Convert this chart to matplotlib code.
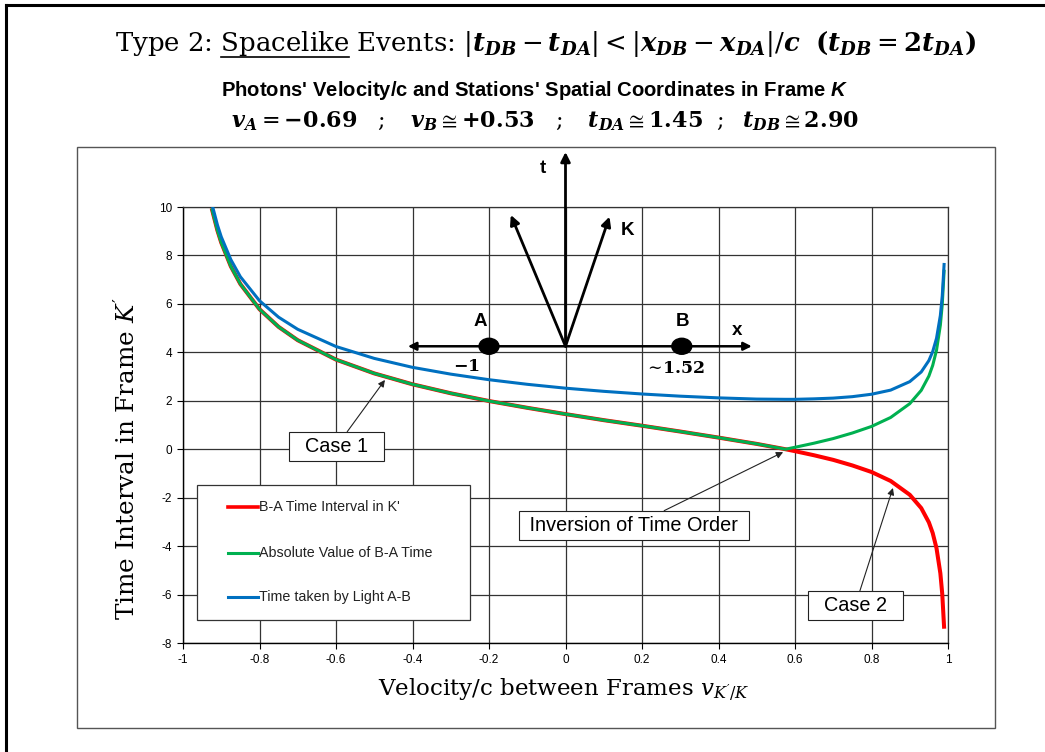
import matplotlib
matplotlib.use("Agg")
import matplotlib.pyplot as plt
from matplotlib.patches import Rectangle, Ellipse
from matplotlib.lines import Line2D

SERIF = 'DejaVu Serif'
plt.rcParams['mathtext.fontset'] = 'custom'
plt.rcParams['mathtext.rm'] = SERIF
plt.rcParams['mathtext.it'] = SERIF + ':italic'
plt.rcParams['mathtext.bf'] = SERIF + ':bold'
plt.rcParams['mathtext.sf'] = 'Liberation Sans:bold:italic'
if 'mathtext.bfit' in plt.rcParams:
    plt.rcParams['mathtext.bfit'] = SERIF + ':bold:italic'
plt.rcParams['axes.unicode_minus'] = False
plt.rcParams['font.family'] = ['Liberation Sans', 'DejaVu Sans']

# ---------------- data ----------------
velocity = [-0.925, -0.91, -0.9, -0.875, -0.85, -0.8, -0.75, -0.7, -0.6, -0.5, -0.4,
            -0.3, -0.2, -0.1, 0.0, 0.1, 0.2, 0.3, 0.4, 0.5, 0.575, 0.6, 0.65, 0.7,
            0.75, 0.8, 0.85, 0.9, 0.93, 0.95, 0.96, 0.97, 0.98, 0.985, 0.99]
interval_ba = [9.95, 9.03, 8.53, 7.55, 6.82, 5.78, 5.05, 4.50, 3.70, 3.13, 2.68,
               2.31, 1.99, 1.71, 1.45, 1.20, 0.97, 0.73, 0.48, 0.22, 0.00, -0.08, -0.25, -0.44,
               -0.67, -0.94, -1.31, -1.88, -2.43, -3.02, -3.46, -4.09, -5.12, -5.98, -7.41]
abs_interval = [9.95, 9.03, 8.53, 7.55, 6.82, 5.78, 5.05, 4.50, 3.70, 3.13, 2.68,
                2.31, 1.99, 1.71, 1.45, 1.20, 0.97, 0.73, 0.48, 0.22, 0.00, 0.08, 0.25, 0.44,
                0.67, 0.94, 1.31, 1.88, 2.43, 3.02, 3.46, 4.09, 5.12, 5.98, 7.41]
light_time = [10.16, 9.26, 8.77, 7.83, 7.12, 6.13, 5.45, 4.95, 4.24, 3.75, 3.38,
              3.10, 2.87, 2.68, 2.52, 2.39, 2.28, 2.19, 2.12, 2.07, 2.06, 2.06, 2.08, 2.11,
              2.17, 2.27, 2.44, 2.79, 3.19, 3.66, 4.03, 4.58, 5.52, 6.33, 7.69]

series_labels = ["B-A Time Interval in K'", "Absolute Value of B-A Time", "Time taken by Light A-B"]
series_colors = ["#FF0000", "#00B050", "#0070C0"]

x_ticks = [-1, -0.8, -0.6, -0.4, -0.2, 0, 0.2, 0.4, 0.6, 0.8, 1]
x_tick_labels = ["-1", "-0.8", "-0.6", "-0.4", "-0.2", "0", "0.2", "0.4", "0.6", "0.8", "1"]
y_ticks = [-8, -6, -4, -2, 0, 2, 4, 6, 8, 10]
y_tick_labels = ["-8", "-6", "-4", "-2", "0", "2", "4", "6", "8", "10"]

# diagram (frame K sketch) positions in data units
origin = (0.0, 4.25)
t_tip = (0.0, 12.27)
k_left_tip = (-0.143, 9.67)
k_right_tip = (0.115, 9.6)
x_axis_ends = (-0.412, 0.487)
station_A = (-0.2, 4.25)
station_B = (0.304, 4.25)

# ---------------- figure ----------------
W, H = 1045, 752
fig = plt.figure(figsize=(W / 100, H / 100), dpi=100)

def fx(px):
    return px / W

def fy(py):
    return 1 - py / H

ax = fig.add_axes([fx(183), fy(643), (948 - 183) / W, (643 - 207) / H])

ax.plot(velocity, interval_ba, color=series_colors[0], lw=2.9, zorder=3, solid_capstyle='butt')
ax.plot(velocity, abs_interval, color=series_colors[1], lw=2.2, zorder=4, solid_capstyle='butt')
ax.plot(velocity, light_time, color=series_colors[2], lw=2.2, zorder=5, solid_capstyle='butt')

ax.set_xlim(-1, 1)
ax.set_ylim(-8, 10)
ax.set_xticks(x_ticks)
ax.set_xticklabels(x_tick_labels)
ax.set_yticks(y_ticks)
ax.set_yticklabels(y_tick_labels)
ax.tick_params(axis='both', direction='out', length=4, width=0.8, labelsize=8.5, colors='black', pad=4)
ax.grid(True, color='#333333', lw=0.9)
ax.set_axisbelow(True)
for s in ['top', 'right']:
    ax.spines[s].set_color('#333333')
    ax.spines[s].set_linewidth(0.9)
for s in ['left', 'bottom']:
    ax.spines[s].set_color('black')
    ax.spines[s].set_linewidth(1.0)

# axis labels
fig.text(fx(564), fy(690), r"Velocity/c between Frames $v_{K'/K}$", ha='center', va='center',
         fontsize=16.5, family=SERIF)
fig.text(fx(127), fy(459), r"Time Interval in Frame $K'$", ha='center', va='center',
         rotation=90, fontsize=17.7, family=SERIF)

# titles
title_str = (r"Type 2: Spacelike Events: $|\mathbfit{t}_{\mathbfit{DB}} - \mathbfit{t}_{\mathbfit{DA}}|"
             r" < |\mathbfit{x}_{\mathbfit{DB}} - \mathbfit{x}_{\mathbfit{DA}}|/\mathbfit{c}\ \ "
             r"\mathbf{(}\mathbfit{t}_{\mathbfit{DB}} = \mathbf{2}\mathbfit{t}_{\mathbfit{DA}}\mathbf{)}$")
title_kw = dict(fontsize=18.7, family=SERIF)
title = fig.text(fx(546), fy(44), title_str, ha='center', va='center', **title_kw)

fig.text(fx(535), fy(90), r"Photons' Velocity/c and Stations' Spatial Coordinates in Frame $\mathsf{K}$",
         ha='center', va='center', fontsize=14.6, fontweight='bold', family='Liberation Sans')
fig.text(fx(545), fy(121),
         r"$\mathbfit{v}_{\mathbfit{A}} = \mathbf{-0.69}\quad;\quad\mathbfit{v}_{\mathbfit{B}} \cong \mathbf{+0.53}"
         r"\quad;\quad\mathbfit{t}_{\mathbfit{DA}} \cong \mathbf{1.45}\ \ ;\ \ \mathbfit{t}_{\mathbfit{DB}} \cong \mathbf{2.90}$",
         ha='center', va='center', fontsize=16)

# borders
fig.add_artist(Rectangle((fx(77), fy(728)), (995 - 77) / W, (728 - 147) / H, transform=fig.transFigure,
                         fill=False, ec='#555555', lw=1.0))
fig.add_artist(Line2D([fx(6), 1], [fy(5), fy(5)], transform=fig.transFigure, color='black', lw=2.2))
fig.add_artist(Line2D([fx(6), fx(6)], [0, fy(5)], transform=fig.transFigure, color='black', lw=2.2))

# legend (manual, Excel-like)
leg_box = Rectangle((0.0183, 0.053), 0.357, 0.309, transform=ax.transAxes, fc='white', ec='#333333',
                    lw=0.9, zorder=6)
ax.add_patch(leg_box)
for i, yy in enumerate([0.312, 0.2064, 0.1055]):
    ax.add_line(Line2D([0.0588, 0.098], [yy, yy], transform=ax.transAxes, color=series_colors[i],
                       lw=2.6 if i == 0 else 2.2, zorder=7))
    ax.text(0.099, yy, series_labels[i], transform=ax.transAxes, fontsize=10.3, va='center', ha='left',
            color='#222222', zorder=7)

# callouts
box_kw = dict(boxstyle='square,pad=0.25', fc='white', ec='#222222', lw=0.8)
arr_kw = dict(arrowstyle='-|>', color='#222222', lw=0.8, mutation_scale=10, shrinkA=0, shrinkB=0)
ax.annotate("  Case 1  ", xy=(-0.472, 2.86), xytext=(-0.599, 0.11), ha='center', va='center', fontsize=14.3,
            bbox=box_kw, arrowprops=arr_kw, zorder=8)
ax.annotate(" Inversion of Time Order ", xy=(0.569, -0.12), xytext=(0.179, -3.15), ha='center', va='center',
            fontsize=14.3, bbox=box_kw, arrowprops=arr_kw, zorder=8)
ax.annotate("  Case 2  ", xy=(0.856, -1.6), xytext=(0.757, -6.47), ha='center', va='center', fontsize=14.3,
            bbox=box_kw, arrowprops=arr_kw, zorder=8)

# frame K diagram
d_arrow = dict(arrowstyle='-|>', color='black', lw=2.0, mutation_scale=14, shrinkA=0, shrinkB=0)
ax.annotate("", xy=t_tip, xytext=origin, arrowprops=d_arrow, annotation_clip=False, zorder=9)
ax.annotate("", xy=k_left_tip, xytext=origin, arrowprops=d_arrow, annotation_clip=False, zorder=9)
ax.annotate("", xy=k_right_tip, xytext=origin, arrowprops=d_arrow, annotation_clip=False, zorder=9)
ax.annotate("", xy=(x_axis_ends[1], origin[1]), xytext=(x_axis_ends[0], origin[1]),
            arrowprops=dict(arrowstyle='<|-|>', color='black', lw=1.8, mutation_scale=12, shrinkA=0, shrinkB=0),
            annotation_clip=False, zorder=9)
for st in (station_A, station_B):
    ax.add_patch(Ellipse(st, 0.052, 0.66, fc='black', ec='black', zorder=10))
lab_kw = dict(fontsize=13.5, fontweight='bold', ha='center', va='center', zorder=10, clip_on=False)
ax.text(-0.059, 11.57, "t", **lab_kw)
ax.text(0.163, 9.05, "K", **lab_kw)
ax.text(-0.224, 5.26, "A", **lab_kw)
ax.text(0.307, 5.26, "B", **lab_kw)
ax.text(0.448, 4.92, "x", **lab_kw)
ax.text(-0.258, 3.44, r"$\mathbf{-1}$", fontsize=12.5, ha='center', va='center', zorder=10)
ax.text(0.286, 3.35, r"$\sim\!\mathbf{1.52}$", fontsize=12.5, ha='center', va='center', zorder=10)

# underline "Spacelike" in the title
fig.canvas.draw()
r = fig.canvas.get_renderer()
tb = title.get_window_extent(r)
t1 = fig.text(0, 0, "Type 2: Spacelike", **title_kw)
t2 = fig.text(0, 0, "Spacelike", **title_kw)
w1 = t1.get_window_extent(r).width
w2 = t2.get_window_extent(r).width
t1.remove()
t2.remove()
x_end = tb.x0 + w1
x_start = x_end - w2
fig.add_artist(Line2D([x_start / W, x_end / W], [fy(57), fy(57)], transform=fig.transFigure,
                      color='black', lw=1.2))

fig.savefig("out.png", dpi=100)
